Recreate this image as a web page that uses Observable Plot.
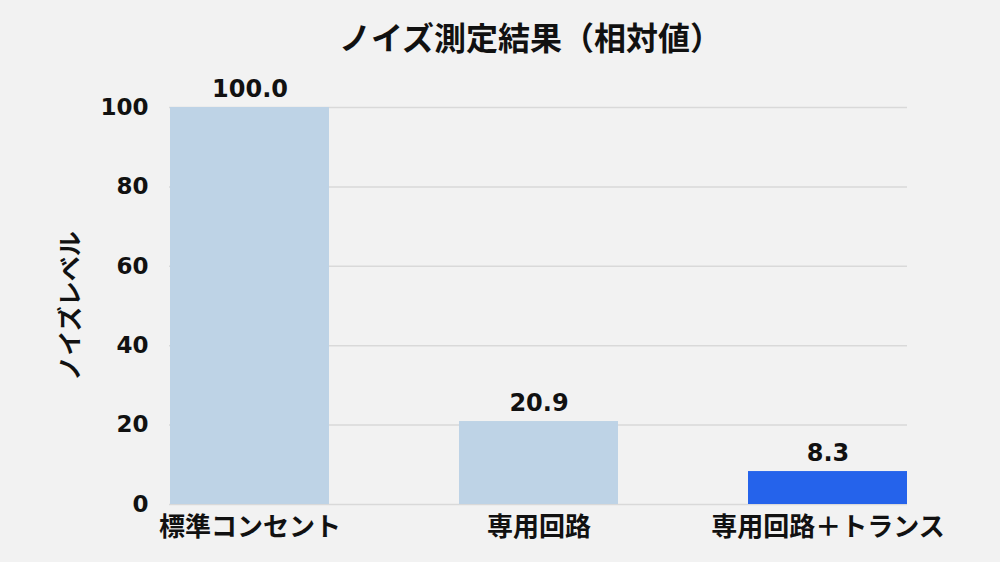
<!DOCTYPE html>
<html>
<head>
<meta charset="utf-8">
<script src="https://cdn.jsdelivr.net/npm/d3@7"></script>
<script src="https://cdn.jsdelivr.net/npm/@observablehq/plot@0.6"></script>
<style>
  html, body { margin: 0; padding: 0; background: #f2f2f2; }
  #chart { width: 1000px; height: 562px; }
</style>
</head>
<body>
<div id="chart"></div>
<script>
const categories = ["標準コンセント", "専用回路", "専用回路＋トランス"];
const values = [100.0, 20.9, 8.3];
const highlight = [false, false, true];
const yTicks = [0, 20, 40, 60, 80, 100];
const title = "ノイズ測定結果（相対値）";
const yLabel = "ノイズレベル";

const data = categories.map((c, i) => ({category: c, value: values[i], hi: highlight[i]}));
const font = "'DejaVu Sans', 'Noto Sans CJK JP', sans-serif";

const chart = Plot.plot({
  width: 1000,
  height: 562,
  marginTop: 107,
  marginBottom: 58,
  marginLeft: 169,
  marginRight: 93,
  style: {background: "#f2f2f2", fontFamily: font, color: "#111"},
  x: {domain: categories, paddingInner: 0.45, paddingOuter: 0, label: null, axis: null},
  y: {domain: [0, 100], label: null, axis: null},
  marks: [
    Plot.gridY(yTicks, {stroke: "#d9d9d9", strokeOpacity: 1, strokeWidth: 1.5}),
    Plot.barY(data, {x: "category", y: "value", fill: d => d.hi ? "#2563eb" : "#bed3e6"}),
    Plot.axisY(yTicks, {tickSize: 0, tickPadding: 21, fontSize: 23, fontWeight: "bold", label: null, fill: "#111", tickFormat: d => String(d)}),
    Plot.axisX({tickSize: 0, tickPadding: 13, fontSize: 26, fontWeight: "bold", label: null, fill: "#111"}),
    Plot.text(data, {x: "category", y: "value", text: d => d.value.toFixed(1), dy: -18, fontSize: 24, fontWeight: "bold", fill: "#111"}),
    Plot.text([title], {frameAnchor: "top", lineAnchor: "middle", text: d => d, dy: -68, dx: -8, fontSize: 32, fontWeight: "bold", fill: "#111"}),
    Plot.text([yLabel], {frameAnchor: "left", textAnchor: "middle", lineAnchor: "middle", text: d => d, dx: -99, rotate: -90, fontSize: 25, fontWeight: "bold", fill: "#111"})
  ]
});
document.getElementById("chart").appendChild(chart);
</script>
</body>
</html>
